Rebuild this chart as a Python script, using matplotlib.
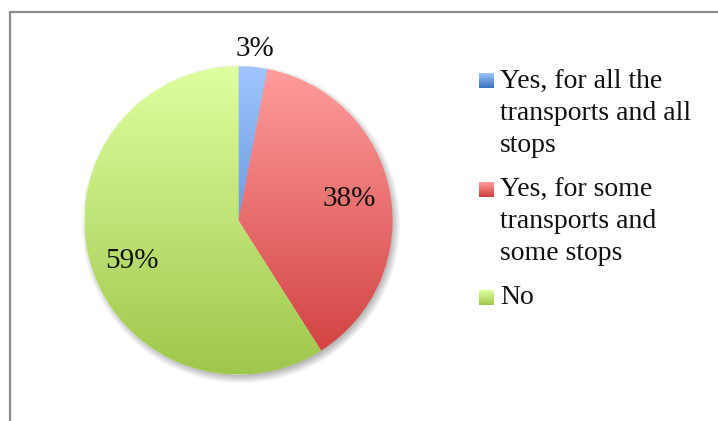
import numpy as np
import matplotlib.pyplot as plt
from matplotlib.colors import to_rgb

# survey answers (percent)
labels = ["Yes, for all the\ntransports and all\nstops",
          "Yes, for some\ntransports and\nsome stops",
          "No"]
values = [3, 38, 59]

# light (top) -> dark (bottom) fill for each slice
top_colors = ["#a0c5ff", "#ff9d9c", "#dfffa0"]
bottom_colors = ["#3a6fc0", "#cf3c3c", "#9fc74c"]

W, H = 718, 421
cx, cy, R = 238.5, H - 220.5, 154.0

# where the percent labels sit: radius fraction and angle nudge (deg)
pct_dist = [1.12, 0.73, 0.74]
pct_nudge = [0, 0, 4.5]


def vgrad(c_top, c_bot, n=256):
    t = np.linspace(0, 1, n)[:, None, None]
    a = np.array(to_rgb(c_top))[None, None, :]
    b = np.array(to_rgb(c_bot))[None, None, :]
    return a + (b - a) * t


fig = plt.figure(figsize=(W / 100, H / 100), dpi=100)
ax = fig.add_axes([0, 0, 1, 1])

wedges, _, pct_texts = ax.pie(
    values, colors=top_colors, startangle=90, counterclock=False,
    center=(cx, cy), radius=R, autopct="%1.0f%%", pctdistance=0.74,
    wedgeprops=dict(linewidth=0, antialiased=True),
    textprops=dict(family="Liberation Serif", fontsize=21, color="#111111"))

ax.set_xlim(0, W)
ax.set_ylim(0, H)
ax.set_aspect("equal")
ax.axis("off")

for w, t, dist, nudge in zip(wedges, pct_texts, pct_dist, pct_nudge):
    mid = np.deg2rad((w.theta1 + w.theta2) / 2 + nudge)
    t.set_position((cx + dist * R * np.cos(mid), cy + dist * R * np.sin(mid)))
    t.set_zorder(3)

# soft drop shadow under the pie
pad = 25
xs = np.linspace(cx - R - pad, cx + R + pad, 400)
ys = np.linspace(cy + R + pad, cy - R - pad, 400)
X, Y = np.meshgrid(xs, ys)
d = np.hypot(X - (cx + 2), Y - (cy - 4))
shadow = np.zeros((400, 400, 4))
shadow[..., :3] = 0.35
shadow[..., 3] = 0.55 * np.clip((R + 6 - d) / 11, 0, 1)
ax.imshow(shadow, extent=(xs[0], xs[-1], ys[-1], ys[0]), origin="upper",
          aspect="auto", zorder=0.5, interpolation="bilinear")

# vertical gradient fills clipped to each wedge
for w, ct, cb in zip(wedges, top_colors, bottom_colors):
    im = ax.imshow(vgrad(ct, cb), extent=(cx - R, cx + R, cy - R, cy + R),
                   origin="upper", aspect="auto", zorder=1.5,
                   interpolation="bilinear")
    im.set_clip_path(w)

# legend drawn by hand so the keys keep the gradient look
item_y = [81, 190, 298]
line_gap = 32
sq = 15
for lab, y0, ct, cb in zip(labels, item_y, top_colors, bottom_colors):
    yc = H - y0
    ax.imshow(vgrad(ct, cb), extent=(479, 479 + sq, yc - sq / 2, yc + sq / 2),
              origin="upper", aspect="auto", zorder=2)
    for k, line in enumerate(lab.split("\n")):
        ax.text(500, yc - k * line_gap, line, family="Liberation Serif",
                fontsize=20, color="#111111", va="center", ha="left")

# chart area border (top and left edges show)
ax.plot([10, 10, W], [0, H - 12, H - 12], color="#8c8c8c", lw=1.6,
        solid_joinstyle="miter", zorder=4)

ax.set_xlim(0, W)
ax.set_ylim(0, H)
fig.savefig("out.png", dpi=100)
